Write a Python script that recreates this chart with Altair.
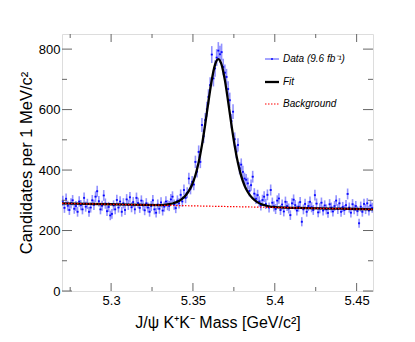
import math
import altair as alt
import pandas as pd

# ---------------- data ----------------
x_domain = [5.27, 5.46]
y_domain = [0, 850]

# candidates per 1 MeV bin, bins starting at 5.270 GeV
bin_first_center = 5.2705
bin_width = 0.001
counts = [
    298, 275, 305, 282, 268, 290, 300, 272, 281, 262,
    296, 284, 270, 308, 279, 288, 262, 276, 300, 285,
    312, 330, 297, 270, 282, 316, 289, 264, 278, 250,
    255, 283, 270, 301, 276, 296, 262, 290, 268, 303,
    285, 310, 277, 294, 270, 308, 291, 275, 299, 283,
    267, 290, 276, 262, 281, 300, 270, 259, 286, 272,
    293, 266, 279, 296, 284,
    281, 303, 312, 286, 274, 299, 290, 318, 296, 334,
    308, 325, 372, 338, 361, 352, 427, 395, 460, 427,
    549, 512, 565, 601, 642, 681, 782, 703, 736, 772,
    795, 783, 790, 741, 722, 708, 668, 631, 562, 593,
    502, 460, 483, 406, 418, 394, 372, 368, 356, 331,
    350, 378, 322, 305, 317, 296, 283, 301, 312, 288,
    318, 276, 334, 292, 280, 271, 299, 306, 268, 286,
    263, 295, 281, 273, 251, 290, 302, 284, 266, 279,
    294, 229, 270, 288, 262, 281, 295, 277, 268, 317,
    289, 260, 274, 292, 266, 283, 270, 258, 287, 276,
    263, 281, 299, 271, 290, 262, 278, 268, 284, 321,
    276, 259, 287, 270, 281, 264, 224, 279, 262, 288,
    271, 290, 266, 283, 275,
]

fit_x = [5.27, 5.30, 5.32, 5.33,
         5.3355, 5.3375, 5.3395, 5.3415, 5.3435, 5.3455, 5.3475, 5.3495,
         5.3515, 5.3535, 5.3555, 5.3575, 5.3595, 5.3615, 5.3635, 5.3655,
         5.3675, 5.3695, 5.3715, 5.3735, 5.3755, 5.3775, 5.3795, 5.3815,
         5.3835, 5.3855, 5.3875, 5.3895, 5.3915, 5.3935, 5.3955,
         5.40, 5.42, 5.44, 5.46]
fit_y = [290.0, 286.9, 284.8, 284.3,
         287.2, 289.4, 292.9, 298.0, 305.6, 316.2, 331.1, 352.4,
         382.9, 425.5, 482.3, 551.9, 627.7, 698.1, 748.8, 767.0,
         748.4, 697.3, 626.5, 550.3, 480.3, 423.1, 380.0, 349.1,
         327.4, 312.1, 301.1, 293.1, 287.6, 283.7, 281.1,
         277.6, 274.3, 272.2, 270.1]

bg_x = [5.27, 5.46]
bg_y = [290.0, 270.0]

y_major = [0, 200, 400, 600, 800]
y_minor = [100, 300, 500, 700]
x_major = [5.30, 5.35, 5.40, 5.45]
x_minor = [5.275, 5.325, 5.375, 5.425]

legend_labels = ["Data (9.6 fb⁻¹)", "Fit", "Background"]

# ---------------- layout / style ----------------
W, H = 311, 257
frame = "#666666"
font = "Liberation Sans"

mass = [round(bin_first_center + bin_width * i, 4) for i in range(len(counts))]
data = pd.DataFrame({"mass": mass, "n": counts})
data["lo"] = [c - math.sqrt(c) for c in counts]
data["hi"] = [c + math.sqrt(c) for c in counts]
data["xl"] = data["mass"] - bin_width / 2
data["xr"] = data["mass"] + bin_width / 2

fit = pd.DataFrame({"mass": fit_x, "n": fit_y})
bg = pd.DataFrame({"mass": bg_x, "n": bg_y})

xs = alt.Scale(domain=x_domain, nice=False, zero=False)
ys = alt.Scale(domain=y_domain, nice=False)

x_axis = alt.Axis(values=x_major, format=".2~f", ticks=False, domain=False, grid=False,
                  labelFont=font, labelFontSize=13, labelColor="#000", labelPadding=3,
                  title="J/ψ K⁺K⁻ Mass [GeV/c²]", titleFont=font, titleFontSize=16,
                  titleFontWeight="normal", titleColor="#000", titlePadding=7)
y_axis = alt.Axis(values=y_major, format="d", ticks=False, domain=False, grid=False,
                  labelFont=font, labelFontSize=13, labelColor="#000", labelPadding=2,
                  title="Candidates per 1 MeV/c²", titleFont=font, titleFontSize=16.5,
                  titleFontWeight="normal", titleColor="#000", titlePadding=4)

base = alt.Chart(data)

err = base.mark_rule(color="#4a4aff", opacity=0.6, strokeWidth=1.6).encode(
    x=alt.X("mass:Q", scale=xs, axis=x_axis),
    y=alt.Y("lo:Q", scale=ys, axis=y_axis),
    y2="hi:Q",
)
hbar = base.mark_rule(color="#0000ff", strokeWidth=1).encode(
    x=alt.X("xl:Q", scale=xs), x2="xr:Q", y=alt.Y("n:Q", scale=ys)
)
pts = base.mark_point(color="#0000ff", filled=True, size=4, shape="square").encode(
    x=alt.X("mass:Q", scale=xs), y=alt.Y("n:Q", scale=ys)
)

fit_line = alt.Chart(fit).mark_line(color="black", strokeWidth=2.3, interpolate="monotone").encode(
    x=alt.X("mass:Q", scale=xs), y=alt.Y("n:Q", scale=ys)
)
bg_line = alt.Chart(bg).mark_line(color="#ff0000", strokeWidth=1.2, strokeDash=[1.5, 1.5]).encode(
    x=alt.X("mass:Q", scale=xs), y=alt.Y("n:Q", scale=ys)
)

# frame ticks (inward, ROOT style)
def yticks(vals, length):
    d = pd.DataFrame({"v": vals})
    left = alt.Chart(d).mark_rule(color=frame, strokeWidth=1).encode(
        y=alt.Y("v:Q", scale=ys), x=alt.value(0), x2=alt.value(length))
    right = alt.Chart(d).mark_rule(color=frame, strokeWidth=1).encode(
        y=alt.Y("v:Q", scale=ys), x=alt.value(W - length), x2=alt.value(W))
    return left + right

def xticks(vals, length):
    d = pd.DataFrame({"v": vals})
    bottom = alt.Chart(d).mark_rule(color=frame, strokeWidth=1).encode(
        x=alt.X("v:Q", scale=xs), y=alt.value(H - length), y2=alt.value(H))
    top = alt.Chart(d).mark_rule(color=frame, strokeWidth=1).encode(
        x=alt.X("v:Q", scale=xs), y=alt.value(0), y2=alt.value(length))
    return bottom + top

ticks = yticks(y_major, 10) + yticks(y_minor, 5) + xticks(x_major, 8) + xticks(x_minor, 4)

# legend
leg = pd.DataFrame({"label": legend_labels})
lx0, lx1, ltx = 203, 217, 221
ly = [25, 48, 70]
leg_data = alt.Chart(leg.iloc[[0]]).mark_rule(color="#4a4aff", strokeWidth=1).encode(
    x=alt.value(lx0), x2=alt.value(lx1), y=alt.value(ly[0]))
leg_dot = alt.Chart(leg.iloc[[0]]).mark_point(color="#0000ff", filled=True, size=4, shape="square").encode(
    x=alt.value((lx0 + lx1) / 2), y=alt.value(ly[0]))
leg_fit = alt.Chart(leg.iloc[[1]]).mark_rule(color="black", strokeWidth=2.3).encode(
    x=alt.value(lx0), x2=alt.value(lx1), y=alt.value(ly[1]))
leg_bg = alt.Chart(leg.iloc[[2]]).mark_rule(color="#ff0000", strokeWidth=1.2, strokeDash=[1.5, 1.5]).encode(
    x=alt.value(lx0), x2=alt.value(lx1), y=alt.value(ly[2]))
leg_text = [
    alt.Chart(leg.iloc[[i]]).mark_text(font=font, fontSize=10, fontStyle="italic", align="left",
                                       baseline="middle", color="black").encode(
        x=alt.value(ltx), y=alt.value(ly[i]), text="label:N")
    for i in range(3)
]

chart = alt.layer(
    err, hbar, pts, fit_line, bg_line, ticks,
    leg_data, leg_dot, leg_fit, leg_bg, *leg_text,
).properties(
    width=W, height=H,
    autosize=alt.AutoSizeParams(type="none"),
    padding={"left": 54, "top": 26, "right": 30, "bottom": 40},
).configure_view(stroke=frame, strokeWidth=1.5).configure(background="white")

chart.save("out.html", embed_options={"renderer": "svg", "actions": False})
